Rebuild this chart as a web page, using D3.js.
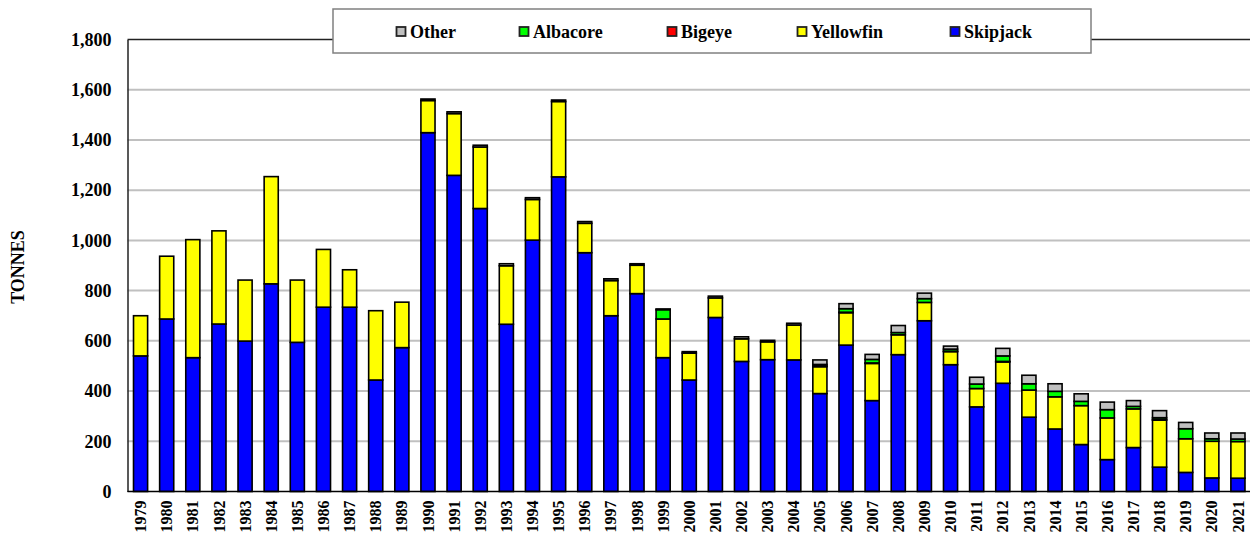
<!DOCTYPE html>
<html>
<head>
<meta charset="utf-8">
<script src="https://cdn.jsdelivr.net/npm/d3@7/dist/d3.min.js"></script>
<style>
	body { margin: 0; background: #fff; }
	svg text { font-family: "Liberation Serif", "Times New Roman", serif; font-weight: 700; fill: #000; }
</style>
</head>
<body>
<svg id="chart" width="1250" height="540"></svg>
<script>
const YEARS = [1979, 1980, 1981, 1982, 1983, 1984, 1985, 1986, 1987, 1988, 1989,
	1990, 1991, 1992, 1993, 1994, 1995, 1996, 1997, 1998, 1999, 2000,
	2001, 2002, 2003, 2004, 2005, 2006, 2007, 2008, 2009, 2010,
	2011, 2012, 2013, 2014, 2015, 2016, 2017, 2018, 2019, 2020, 2021];

const SKIPJACK  = [540, 687, 533, 667, 599, 827, 594, 734, 734, 444, 573,
	1429, 1259, 1127, 666, 1001, 1253, 951, 700, 788, 533, 444,
	693, 518, 525, 524, 390, 583, 362, 545, 680, 505,
	337, 431, 296, 249, 187, 127, 175, 97, 76, 54, 53];
const YELLOWFIN = [160, 250, 470, 371, 243, 427, 248, 230, 149, 276, 181,
	128, 246, 245, 233, 162, 300, 117, 140, 113, 154, 107,
	78, 90, 71, 139, 107, 129, 148, 79, 73, 52,
	73, 85, 108, 128, 155, 166, 154, 187, 134, 146, 146];
const BIGEYE    = [0, 0, 0, 0, 0, 0, 0, 0, 0, 0, 0,
	0, 0, 0, 0, 0, 0, 0, 0, 0, 0, 0,
	0, 0, 0, 0, 3, 2, 2, 0, 0, 2,
	0, 2, 0, 0, 0, 0, 0, 3, 0, 0, 0];
const ALBACORE  = [0, 0, 0, 0, 0, 0, 0, 0, 0, 0, 0,
	0, 0, 0, 0, 0, 0, 0, 0, 0, 37, 0,
	0, 0, 0, 0, 6, 14, 14, 9, 15, 8,
	18, 22, 25, 22, 17, 33, 10, 7, 40, 10, 10];
const OTHER     = [0, 0, 0, 0, 0, 0, 0, 0, 0, 0, 0,
	6, 7, 7, 8, 7, 6, 7, 7, 6, 3, 6,
	7, 8, 6, 7, 18, 20, 20, 28, 22, 12,
	27, 30, 34, 30, 30, 30, 23, 28, 25, 23, 24];

const SPECIES = ['Skipjack', 'Yellowfin', 'Bigeye', 'Albacore', 'Other'];
const SPECIES_COLORS = ['#0000ff', '#ffff00', '#ff0000', '#00ff00', '#c0c0c0'];
const LEGEND_ORDER = ['Other', 'Albacore', 'Bigeye', 'Yellowfin', 'Skipjack'];
const Y_TICKS = [0, 200, 400, 600, 800, 1000, 1200, 1400, 1600, 1800];

// plot box
const LEFT = 127.5, RIGHT = 1251, TOP = 39.5, BOTTOM = 491.5;

// one row per year for d3.stack
const rows = YEARS.map((y, i) => ({
	year: y,
	Skipjack: SKIPJACK[i],
	Yellowfin: YELLOWFIN[i],
	Bigeye: BIGEYE[i],
	Albacore: ALBACORE[i],
	Other: OTHER[i]
}));

const svg = d3.select('#chart');
const color = d3.scaleOrdinal().domain(SPECIES).range(SPECIES_COLORS);

const x = d3.scaleBand()
	.domain(YEARS)
	.range([LEFT, RIGHT])
	.paddingInner(0.46)
	.paddingOuter(0.23);

const y = d3.scaleLinear()
	.domain([0, 1800])
	.range([BOTTOM, TOP]);

// gridlines
svg.append('g')
	.selectAll('line')
	.data(Y_TICKS.filter(d => d > 0 && d < 1800))
	.enter().append('line')
	.attr('x1', LEFT).attr('x2', RIGHT)
	.attr('y1', d => y(d)).attr('y2', d => y(d))
	.attr('stroke', '#c0c0c0')
	.attr('stroke-width', 2);

// top border of plot area
svg.append('line')
	.attr('x1', LEFT).attr('x2', RIGHT)
	.attr('y1', TOP).attr('y2', TOP)
	.attr('stroke', '#222').attr('stroke-width', 1.5);

// stacked bars
const stacked = d3.stack().keys(SPECIES)(rows);

svg.append('g')
	.selectAll('g')
	.data(stacked)
	.enter().append('g')
	.attr('fill', d => color(d.key))
	.selectAll('rect')
	.data(d => d.filter(s => s[1] - s[0] > 0))
	.enter().append('rect')
	.attr('x', d => x(d.data.year))
	.attr('width', x.bandwidth())
	.attr('y', d => y(d[1]))
	.attr('height', d => y(d[0]) - y(d[1]))
	.attr('stroke', '#000')
	.attr('stroke-width', 1.6);

// y axis
const yAxis = svg.append('g')
	.attr('transform', `translate(${LEFT},0)`)
	.call(d3.axisLeft(y).tickValues(Y_TICKS).tickSize(0).tickPadding(16).tickFormat(d3.format(',')));
yAxis.attr('font-family', null).attr('font-size', null);
yAxis.select('.domain').attr('stroke', '#222').attr('stroke-width', 1.5);
yAxis.selectAll('text').style('font-size', '18px');

// x axis
const xAxis = svg.append('g')
	.attr('transform', `translate(0,${BOTTOM})`)
	.call(d3.axisBottom(x).tickSize(0).tickSizeOuter(0));
xAxis.attr('font-family', null).attr('font-size', null);
xAxis.select('.domain').attr('stroke', '#000').attr('stroke-width', 1.5)
	.attr('d', `M${LEFT},0H${RIGHT}`);
xAxis.selectAll('text')
	.style('font-size', '16px')
	.attr('text-anchor', 'end')
	.attr('dy', '0.35em')
	.attr('transform', 'translate(0,9) rotate(-90)')
	.attr('x', 0).attr('y', 0);

// axis title
svg.append('text')
	.attr('transform', 'translate(18,267) rotate(-90)')
	.attr('text-anchor', 'middle')
	.attr('dy', '0.35em')
	.style('font-size', '18px')
	.text('TONNES');

// legend
const legend = svg.append('g');
legend.append('rect')
	.attr('x', 333).attr('y', 9)
	.attr('width', 758).attr('height', 44)
	.attr('fill', '#fff')
	.attr('stroke', '#808080')
	.attr('stroke-width', 1.5);

const LEGEND_X = [396, 519, 667, 797, 950];
const items = legend.selectAll('g.item')
	.data(LEGEND_ORDER)
	.enter().append('g')
	.attr('class', 'item')
	.attr('transform', (d, i) => `translate(${LEGEND_X[i]},31.5)`);
items.append('rect')
	.attr('x', 0.5).attr('y', -4.5)
	.attr('width', 9).attr('height', 9)
	.attr('fill', d => color(d))
	.attr('stroke', '#222')
	.attr('stroke-width', 1.8);
items.append('text')
	.attr('x', 14).attr('y', 0)
	.attr('dy', '0.35em')
	.style('font-size', '18px')
	.text(d => d);
</script>
</body>
</html>
